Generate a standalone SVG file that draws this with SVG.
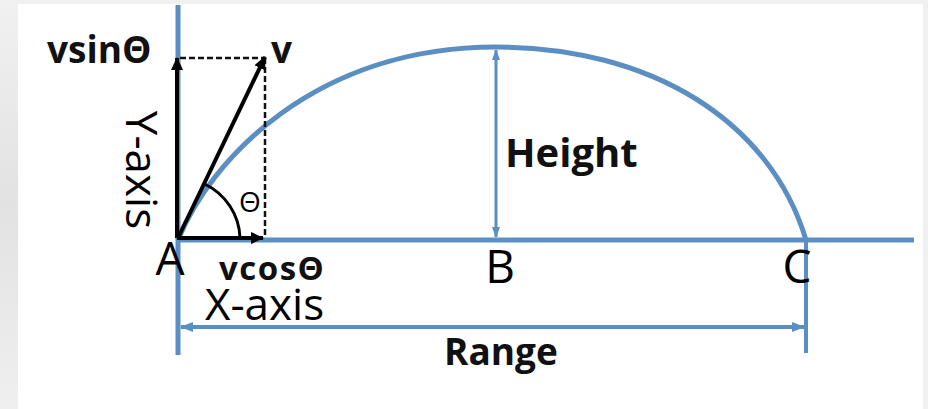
<svg xmlns="http://www.w3.org/2000/svg" width="928" height="409" viewBox="0 0 928 409">
<defs>
<linearGradient id="bgL" x1="0" y1="0" x2="0" y2="1">
<stop offset="0" stop-color="#f1f1f1"/>
<stop offset="0.5" stop-color="#e2e2e2"/>
<stop offset="1" stop-color="#efefef"/>
</linearGradient>
<marker id="ab" markerUnits="userSpaceOnUse" markerWidth="14" markerHeight="12" refX="12" refY="6" orient="auto-start-reverse">
<path d="M0,0 L13,6 L0,12 Z" fill="#000"/>
</marker>
<marker id="abl" markerUnits="userSpaceOnUse" markerWidth="14" markerHeight="12" refX="12" refY="6" orient="auto-start-reverse">
<path d="M0,1 L13,6 L0,11 Z" fill="#5b8fc4"/>
</marker>
<marker id="abls" markerUnits="userSpaceOnUse" markerWidth="12" markerHeight="10" refX="10" refY="5" orient="auto-start-reverse">
<path d="M0,1 L11,5 L0,9 Z" fill="#5b8fc4"/>
</marker>
</defs>
<style>
.blue{stroke:#5b8fc4;fill:none}
.blk{stroke:#000;fill:none}
.dash{stroke:#111;fill:none;stroke-width:2.5;stroke-dasharray:6 3}
.t{font-family:"Open Sans","Noto Sans",sans-serif;fill:#000}
.b{font-family:"Open Sans","Noto Sans",sans-serif;font-weight:bold;fill:#111}
</style>
<rect x="0" y="0" width="928" height="409" fill="#f0f0f0"/>
<rect x="0" y="0" width="18" height="409" fill="url(#bgL)"/>
<rect x="18" y="4" width="905" height="405" fill="#ffffff"/>

<g id="connectors">
<line class="blue" x1="178" y1="5" x2="178" y2="355" stroke-width="5"/>
<line class="blue" x1="178" y1="240" x2="914" y2="240" stroke-width="5"/>
<line class="blue" x1="806" y1="240" x2="806" y2="353" stroke-width="4"/>
<path class="blue" d="M178,240 C210,160 315,47 496,47 C650,47 770,120 806,240" stroke-width="5"/>
<line class="blue" x1="496" y1="50" x2="496" y2="237" stroke-width="3" marker-start="url(#abls)" marker-end="url(#abls)"/>
<line class="blue" x1="181" y1="327" x2="804" y2="327" stroke-width="4" marker-start="url(#abl)" marker-end="url(#abl)"/>
<line class="dash" x1="180" y1="58" x2="265" y2="58"/>
<line class="dash" x1="265" y1="58" x2="265" y2="238"/>
<line class="blk" x1="177" y1="238" x2="177" y2="58" stroke-width="4" marker-end="url(#ab)"/>
<line class="blk" x1="177" y1="238" x2="263" y2="238" stroke-width="4" marker-end="url(#ab)"/>
<line class="blk" x1="178" y1="238" x2="265" y2="57" stroke-width="4" marker-end="url(#ab)"/>
<path class="blk" d="M240,238 A62,62 0 0 0 204.6,184" stroke-width="3"/>
</g>

<g id="vsin"><text class="b" x="47" y="63" font-size="37">vsinΘ</text></g>
<g id="v"><text class="b" x="271" y="63" font-size="37">v</text></g>
<g id="yaxis"><text class="t" transform="translate(126,170) rotate(90)" text-anchor="middle" font-size="44">Y-axis</text></g>
<g id="theta"><text class="t" x="250" y="212" text-anchor="middle" font-size="28">Θ</text></g>
<g id="A"><text class="t" x="170" y="275" text-anchor="middle" font-size="46">A</text></g>
<g id="vcos"><text class="b" x="219" y="280" font-size="33" letter-spacing="1.5">vcosΘ</text></g>
<g id="xaxis"><text class="t" x="205" y="320" font-size="44">X-axis</text></g>
<g id="B"><text class="t" x="500" y="283" text-anchor="middle" font-size="46">B</text></g>
<g id="C"><text class="t" x="797" y="283" text-anchor="middle" font-size="46">C</text></g>
<g id="height"><text class="b" x="505" y="167" font-size="40">Height</text></g>
<g id="range"><text class="b" x="444" y="365" font-size="37">Range</text></g>
</svg>
